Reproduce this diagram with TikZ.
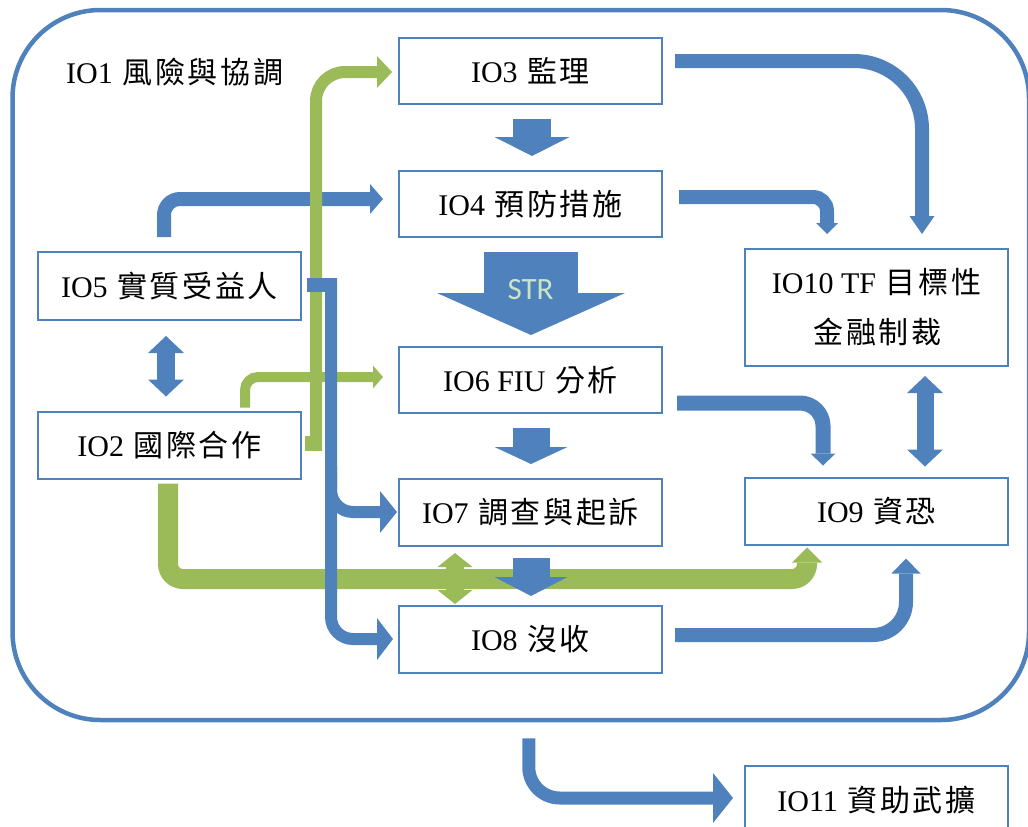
\documentclass[tikz,border=0pt]{standalone}
\usepackage{fontspec}
\setmainfont{Liberation Serif}
\newfontfamily\cjkf{Noto Sans CJK TC}[LetterSpace=9]
\newfontfamily\strf{Carlito}
\usetikzlibrary{arrows.meta,calc}
\definecolor{ablue}{RGB}{79,129,189}
\definecolor{agreen}{RGB}{155,187,89}
\definecolor{strtext}{RGB}{200,230,195}
\newcommand\zh[1]{\hspace{2pt}{\cjkf #1}}
\begin{document}
\begin{tikzpicture}[x=1pt,y=-1pt,
  iobox/.style={draw=ablue, line width=2pt, fill=white, minimum width=263pt,
    inner sep=0pt, font=\fontsize{30}{36}\selectfont},
  tri/.style n args={2}{-{Triangle[width=#1,length=#2,line width=0pt]}},
  dtri/.style n args={2}{{Triangle[width=#1,length=#2,line width=0pt]}-{Triangle[width=#1,length=#2,line width=0pt]}}
]
\useasboundingbox (0,0) rectangle (1028,827);

% outer frame IO1
\node[draw=ablue, line width=4.5pt, rounded corners=88pt, minimum width=1016.5pt,
  minimum height=710pt, inner sep=0pt] (io1) at (520.75,365) {};
\node[font=\fontsize{30}{36}\selectfont, anchor=west, inner sep=0pt] (io1t) at (66,72) {IO1 \zh{風險與協調}};

% boxes
\node[iobox, minimum height=66pt] (io3) at (530.5,70.5) {IO3 \zh{監理}};
\node[iobox, minimum height=66pt] (io4) at (530.5,204) {IO4 \zh{預防措施}};
\node[iobox, minimum height=66pt] (io6) at (530.5,380) {IO6 FIU \zh{分析}};
\node[iobox, minimum height=67pt] (io7) at (530.5,512) {IO7 \zh{調查與起訴}};
\node[iobox, minimum height=67pt] (io8) at (530.5,639) {IO8 \zh{沒收}};
\node[iobox, minimum height=68pt] (io5) at (169.5,286) {IO5 \zh{實質受益人}};
\node[iobox, minimum height=67pt] (io2) at (169.5,445) {IO2 \zh{國際合作}};
\node[iobox, minimum height=117pt, align=center, font=\fontsize{30}{50}\selectfont] (io10) at (876.5,307.5) {IO10 TF \zh{目標性}\\\zh{金融制裁}};
\node[iobox, minimum height=67pt] (io9) at (876.5,511) {IO9 \zh{資恐}};
\node[iobox, minimum height=68pt] (io11) at (876.5,800) {IO11 \zh{資助武擴}};

% blue IO5 -> IO4 (under green)
\draw[ablue, line width=14pt, rounded corners=16pt, tri={30pt}{13pt}]
  ($(io5.north)+(-5.5,-14)$) |- ($(io4.west)+(-15,-5)$);

% green arrows from IO2
\draw[agreen, line width=15pt] ($(io2.east)+(3,-2)$) -- ($(io2.east)+(20,-2)$);
\draw[agreen, line width=12pt, rounded corners=29pt, tri={32pt}{15pt}]
  ($(io2.east)+(14,5.5)$) |- ($(io3.west)+(-6,1.5)$);
\draw[agreen, line width=10pt, rounded corners=13pt, tri={23pt}{10pt}]
  ($(io2.north)+(75.5,-3)$) |- ($(io6.west)+(-15,-3)$);
\draw[agreen, line width=20pt, rounded corners=15pt, tri={30pt}{15pt}]
  ($(io2.south)+(-1.5,4)$) -- ($(io2.south)+(-1.5,99.5)$) -| ($(io9.south)+(-69.5,2)$);
\draw[agreen, line width=18pt, dtri={35pt}{14pt}]
  ($(io7.south)+(-75.5,6.5)$) -- ($(io8.north)+(-75.5,-0.5)$);

% blue IO5 -> IO7 / IO8
\draw[ablue, line width=14pt] ($(io5.east)+(5,-1)$) -- ($(io5.east)+(35,-1)$);
\draw[ablue, line width=12pt, rounded corners=22pt, tri={42pt}{16pt}]
  ($(io5.east)+(29,-8)$) |- ($(io8.west)+(-5,0)$);
\draw[ablue, line width=12pt, rounded corners=22pt, tri={42pt}{17pt}]
  ($(io5.east)+(29,180)$) |- ($(io7.west)+(-1,0)$);

% IO5 <-> IO2
\draw[ablue, line width=18pt, dtri={36pt}{17pt}]
  ($(io5.south)+(-3.5,15)$) -- ($(io2.north)+(-3.5,-14)$);

% block arrows down the middle
\draw[ablue, line width=38pt, tri={75pt}{19pt}]
  ($(io3.south)+(1.5,14)$) -- ($(io4.north)+(1.5,-14)$);
\draw[ablue, line width=94pt, tri={188pt}{42pt}]
  ($(io4.south)+(0.5,14)$) -- ($(io6.north)+(0.5,-11)$);
\node[font=\strf\fontsize{31}{31}\selectfont, text=strtext, inner sep=0pt] (str)
  at ($(io4.south)!0.5!(io6.north)+(0,-2)$) {STR};
\draw[ablue, line width=37pt, tri={73pt}{17pt}]
  ($(io6.south)+(0.5,14)$) -- ($(io7.north)+(0.5,-13.5)$);
\draw[ablue, line width=37pt, tri={73pt}{19pt}]
  ($(io7.south)+(0.5,11.5)$) -- ($(io8.north)+(0.5,-8.5)$);

% right side arrows
\draw[ablue, line width=14pt, rounded corners=68pt, tri={25pt}{18pt}]
  ($(io3.east)+(12,-9.5)$) -| ($(io10.north)+(45.5,-14)$);
\draw[ablue, line width=14pt, rounded corners=14pt, tri={22pt}{11pt}]
  ($(io4.east)+(16,-7)$) -| ($(io10.north)+(-49.5,-14)$);
\draw[ablue, line width=15pt, rounded corners=23pt, tri={25pt}{12pt}]
  ($(io6.east)+(14,23)$) -| ($(io9.north)+(-53.5,-11)$);
\draw[ablue, line width=17pt, dtri={36pt}{17pt}]
  ($(io10.south)+(48.5,9)$) -- ($(io9.north)+(48.5,-10)$);
\draw[ablue, line width=14pt, rounded corners=33pt, tri={29pt}{15pt}]
  ($(io8.east)+(12,-4)$) -| ($(io9.south)+(29.5,13)$);

% IO1 -> IO11
\draw[ablue, line width=13pt, rounded corners=31pt, tri={50pt}{20pt}]
  ($(io1.south)+(8,16)$) |- ($(io11.west)+(-11,-2)$);
\end{tikzpicture}
\end{document}
